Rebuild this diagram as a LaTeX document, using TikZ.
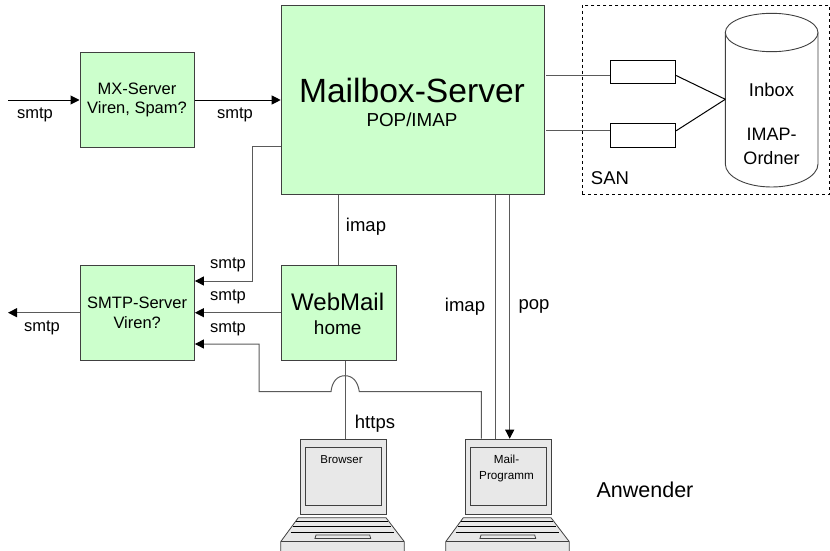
\documentclass[tikz,border=0pt]{standalone}
\usepackage{fontspec}
\setmainfont{Liberation Sans}
\usetikzlibrary{arrows.meta}
\definecolor{boxgreen}{HTML}{CCFFCC}
\definecolor{linegrey}{HTML}{404040}
\definecolor{conngrey}{HTML}{5A5A5A}
\definecolor{lapgrey}{HTML}{E8E8E8}
\tikzset{
  server/.style={draw=linegrey,fill=boxgreen,line width=0.9pt,inner sep=0pt,align=center,anchor=north west},
  conn/.style={draw=conngrey,line width=1pt},
  arr/.style={conn,-{Triangle[length=9pt,width=9pt,color=black]}},
  lab/.style={font=\fontsize{16.5}{19}\selectfont,text=black,inner sep=0pt},
  big/.style={font=\fontsize{18.5}{21}\selectfont,text=black,inner sep=0pt},
  hba/.style={draw=black,fill=white,line width=0.8pt,minimum width=65pt,minimum height=23.4pt,inner sep=0pt,anchor=north west},
  lap/.style={draw=linegrey,fill=lapgrey,line width=0.8pt}
}
\newcommand{\laptop}[3]{%
  \begin{scope}[shift={(#1,438.7)}]
    \path[lap] (-1.7,79) -- (86,79) -- (104.3,103) -- (104.3,113) -- (-19.3,113) -- (-19.3,103) -- cycle;
    \draw[linegrey,line width=0.9pt] (-19.3,103) -- (104.3,103);
    \draw[black,line width=0.9pt] (-4,83) -- (87.7,83) (-6.7,87.3) -- (90.7,87.3) (-9.3,94) -- (94,94);
    \path[lap] (16,96.3) -- (69.7,96.3) -- (70.7,99.7) -- (15,99.7) -- cycle;
    \node[lap,minimum width=86pt,minimum height=75.3pt,inner sep=0pt,anchor=north west] (#2) at (0,0) {};
    \node[lap,minimum width=76.6pt,minimum height=58.6pt,inner sep=0pt,anchor=north west,align=center] at (4.6,8) {};
    \node[font=\fontsize{#3}{15.3}\selectfont,align=center,anchor=north,inner sep=0pt] at (41.5,16.5) {\ifnum#1<400 Browser\else Mail-\\Programm\fi};
  \end{scope}}
\begin{document}
\begin{tikzpicture}[x=1pt,y=-1pt]
\useasboundingbox (0,0) rectangle (830,551);
\clip (0,0) rectangle (830,551);
% SAN
\node[draw=black,dashed,line width=0.7pt,minimum width=247.5pt,minimum height=189.3pt,inner sep=0pt,anchor=north west] (san) at (581.7,4.7) {};
\node[big] (sanl) at (610,178) {SAN};
% servers
\node[server,minimum width=263pt,minimum height=189pt] (mbs) at (280.7,5) {};
\node[lab,font=\fontsize{33.6}{38}\selectfont] (mbst) at (412,90) {Mailbox-Server};
\node[lab,font=\fontsize{18.8}{21}\selectfont] (mbsu) at (412,120) {POP/IMAP};
\node[server,minimum width=114.5pt,minimum height=94.4pt] (mx) at (79.5,52.3) {};
\node[font=\fontsize{16.5}{19.5}\selectfont,align=center,inner sep=0pt] (mxt) at (137,100) {MX-Server\\Viren, Spam?};
\node[server,minimum width=114.5pt,minimum height=95pt,font=\fontsize{16.5}{20}\selectfont] (smtp) at (79.5,265) {SMTP-Server\\Viren?};
\node[server,minimum width=115pt,minimum height=95pt] (web) at (280.7,265) {};
\node[lab,font=\fontsize{24}{28}\selectfont] (webt) at (337.7,301.7) {WebMail};
\node[lab,font=\fontsize{19}{22}\selectfont] (webu) at (337.7,328) {home};
% HBAs
\node[hba] (h1) at (610.3,60) {};
\node[hba] (h2) at (610.3,123.3) {};
% cylinder
\node[inner sep=0pt,minimum width=92.7pt,minimum height=173.4pt,anchor=north west] (cyl) at (725.3,13.3) {};
\draw[linegrey,fill=white,line width=0.9pt] (725.3,32.5) -- (725.3,164) arc[start angle=180,end angle=0,x radius=46.35pt,y radius=-23pt] -- (818,32.5);
\draw[linegrey,fill=white,line width=0.9pt] (771.65,32.5) ellipse[x radius=46.35pt,y radius=19.2pt];
\node[big] (inb) at (771.5,90) {Inbox};
\node[big,font=\fontsize{18}{24}\selectfont,align=center] (ord) at (771.5,146) {IMAP-\\Ordner};
% SAN connectors
\coordinate (join) at (cyl.west |- 0,99.3);
\draw[conn] (mbs.east |- 0,75.5) ++(1.5,0) -- (h1.west |- 0,75.5);
\draw[conn] (mbs.east |- 0,130.8) ++(1.5,0) -- (h2.west |- 0,130.8);
\draw[conn,draw=black] (h1.east |- 0,75.5) -- (join);
\draw[conn,draw=black] (h2.east |- 0,130.8) -- (join);
% in / MX
\coordinate (inp) at (8,100);
\draw[arr,draw=black] (inp) -- (inp -| mx.west);
\draw[arr,draw=black] (mx.east |- 0,100) -- (mbs.west |- 0,100);
% laptops
\laptop{300}{lap1}{11.5}
\laptop{465}{lap2}{11.7}
% mailbox to smtp
\coordinate (c1) at (252,146.7);
\draw[arr] (mbs.west |- c1) -- (c1) |- (smtp.east |- 0,281);
\draw[conn] (mbs.south -| 338,0) -- (web.north -| 338,0);
\draw[arr] (web.west |- 0,312.7) -- (smtp.east |- 0,312.7);
\coordinate (outp) at (8,312.7);
\draw[arr] (smtp.west |- outp) -- (outp);
\draw[conn] (web.south -| 345,0) -- (lap1.north -| 345,0);
% bridged line
\coordinate (b1) at (331,391.7);
\coordinate (b2) at (359.3,391.7);
\draw[arr] (lap2.north -| 481.3,0) |- (b2) .. controls (358,382) and (353,375.7) .. (345,375.7) .. controls (337,375.7) and (332,382) .. (b1) -- (259,391.7) |- (smtp.east |- 0,344);
% imap / pop
\draw[conn] (mbs.south -| 495.7,0) -- (lap2.north -| 495.7,0);
\draw[arr] (mbs.south -| 509.7,0) -- (lap2.north -| 509.7,0);
% labels
\node[lab] (l1) at (35,115) {smtp};
\node[lab] (l2) at (235,115) {smtp};
\node[lab] (l3) at (228,264.5) {smtp};
\node[lab] (l4) at (228,297) {smtp};
\node[lab] (l5) at (228,329) {smtp};
\node[lab] (l6) at (42,328) {smtp};
\node[big] (l7) at (366,227) {imap};
\node[big] (l8) at (375,424) {https};
\node[big] (l9) at (465,306.5) {imap};
\node[big] (l10) at (534,306.5) {pop};
\node[lab,font=\fontsize{21.5}{25}\selectfont] (l11) at (645,490) {Anwender};
\end{tikzpicture}
\end{document}
